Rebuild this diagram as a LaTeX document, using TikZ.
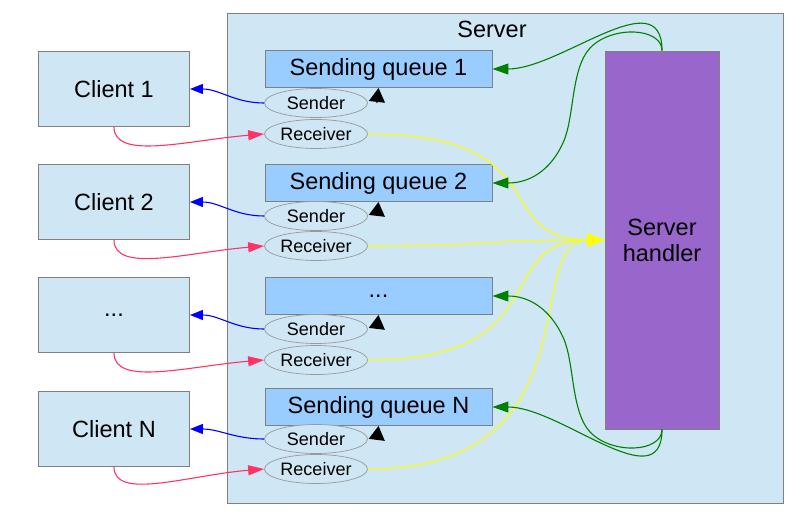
\documentclass[tikz,border=0pt]{standalone}
\usepackage{fontspec}
\setmainfont{Liberation Sans}
\usetikzlibrary{arrows.meta,shapes.geometric}
\definecolor{bgc}{HTML}{CFE6F4}
\definecolor{qcol}{HTML}{99CCFF}
\definecolor{hcol}{HTML}{9966CC}
\definecolor{bord}{HTML}{808080}
\definecolor{ellc}{HTML}{999999}
\definecolor{grc}{HTML}{008000}
\definecolor{rdc}{HTML}{FF3366}
\definecolor{ylc}{HTML}{FFFF00}
\begin{document}
\begin{tikzpicture}[x=1pt,y=-1pt,
  bigfont/.style={font=\fontsize{23.5}{26}\selectfont},
  srvbox/.style={draw=bord, line width=0.9pt, fill=bgc, minimum width=556pt, minimum height=490pt, inner sep=0pt},
  clientbox/.style={draw=bord, line width=0.9pt, fill=bgc, minimum width=151pt, minimum height=75pt, inner sep=0pt, bigfont},
  queuebox/.style={draw=bord, line width=0.9pt, fill=qcol, minimum width=227pt, minimum height=37pt, inner sep=0pt, bigfont},
  handlerbox/.style={draw=bord, line width=0.9pt, fill=hcol, minimum width=114pt, minimum height=378pt, inner sep=0pt, align=center, bigfont},
  endpt/.style={draw=ellc, line width=0.7pt, fill=bgc, ellipse, minimum width=103pt, minimum height=29pt, inner sep=0pt, font=\fontsize{18}{20}\selectfont},
  conn/.style={line width=1.1pt},
  bluearr/.style={conn, draw=blue, -{Triangle[length=13pt,width=10pt]}},
  redarr/.style={conn, draw=rdc, -{Triangle[length=16pt,width=10pt]}},
  yelarr/.style={conn, draw=ylc, -{Triangle[length=17pt,width=13pt]}},
  grarr/.style={conn, draw=grc, -{Triangle[length=16pt,width=11pt]}},
  blkarr/.style={conn, draw=black, -{Triangle[length=14pt,width=16pt]}},
]
\path[use as bounding box] (0,0) rectangle (794,522);

% server frame
\node[srvbox] (srv) at (505,258) {};
\node[bigfont] (srvlabel) at (492,29) {Server};

% handler
\node[handlerbox] (hand) at (662,240) {Server\\handler};

% clients
\node[clientbox] (c1) at (114,89) {Client 1};
\node[clientbox] (c2) at (114,202) {Client 2};
\node[clientbox] (c3) at (114,315) {...};
\node[clientbox] (c4) at (114,429) {Client N};

% queues
\node[queuebox] (q1) at (378.5,69) {Sending queue 1};
\node[queuebox] (q2) at (378.5,183) {Sending queue 2};
\node[queuebox] (q3) at (378.5,296) {...};
\node[queuebox] (q4) at (378.5,407) {Sending queue N};

% senders / receivers
\node[endpt] (s1) at (316,103) {Sender};
\node[endpt] (r1) at (316,134) {Receiver};
\node[endpt] (s2) at (316,216) {Sender};
\node[endpt] (r2) at (316,246) {Receiver};
\node[endpt] (s3) at (316,329) {Sender};
\node[endpt] (r3) at (316,360) {Receiver};
\node[endpt] (s4) at (316,439) {Sender};
\node[endpt] (r4) at (316,469) {Receiver};

% sender -> client (blue), client -> receiver (red), sender -> queue (black)
\foreach \i in {1,2,3,4}{
  \draw[bluearr] (s\i.west) to[out=180,in=0] (c\i.east);
  \draw[redarr] (c\i.south) .. controls +(0,34) and +(-75,6) .. (r\i.west);
  \draw[blkarr] ([xshift=9pt]s\i.east) -- (q\i.south);
}

% receivers -> handler (yellow)
\draw[yelarr] (r1.east) .. controls +(192,0) and +(-115,0) .. (hand.west);
\draw[yelarr] (r2.east) .. controls +(120,0) and +(-120,0) .. (hand.west);
\draw[yelarr] (r3.east) .. controls +(192,0) and +(-115,0) .. (hand.west);
\draw[yelarr] (r4.east) .. controls +(232,0) and +(-85,0) .. (hand.west);

% handler -> queues (green)
\draw[grarr] (hand.north) .. controls +(0,-71) and +(68,0) .. (q1.east);
\draw[grarr] (hand.north) .. controls +(0,-23) and (612,25) .. (590,48)
  .. controls (570,70) and (575,120) .. (562,145)
  .. controls (550,170) and (530,183) .. (q2.east);
\draw[grarr] (hand.south) .. controls +(0,23) and (612,455) .. (590,432)
  .. controls (570,410) and (575,360) .. (562,335)
  .. controls (550,310) and (530,296) .. (q3.east);
\draw[grarr] (hand.south) .. controls +(0,71) and +(68,0) .. (q4.east);
\end{tikzpicture}
\end{document}
